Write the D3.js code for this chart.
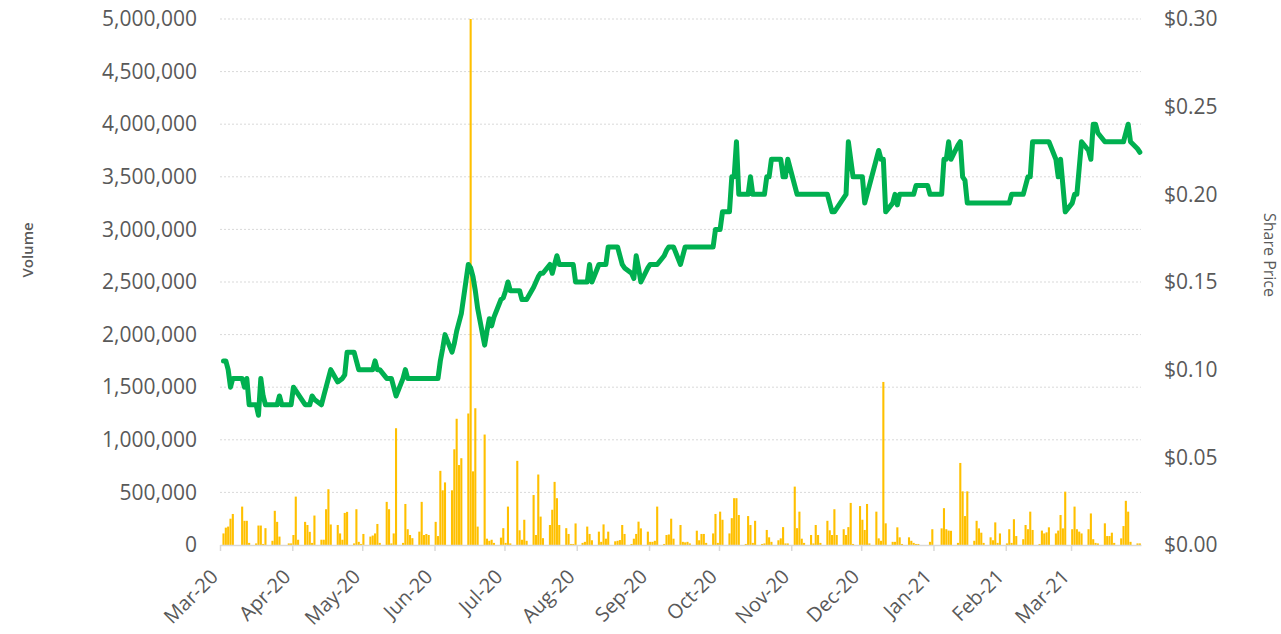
<!DOCTYPE html>
<html>
<head>
<meta charset="utf-8">
<script src="https://cdn.jsdelivr.net/npm/d3@7"></script>
<style>
  body { margin: 0; background: #fff; }
  svg text { font-family: "Open Sans", sans-serif; fill: #595959; }
</style>
</head>
<body>
<svg id="chart" width="1281" height="634"></svg>
<script>
// trading days Mar 2 2020 .. Mar 30 2021, one row per week (Mon..Fri)
const firstDay = new Date(Date.UTC(2020, 2, 2));
const lastDay = new Date(Date.UTC(2021, 2, 31)); // exclusive

// share price ($) per trading day
const sharePrice = [
  .105,.105,.10,.09,.095,
  .095,.095,.09,.095,.08,
  .08,.074,.095,.085,.08,
  .08,.08,.08,.085,.08,
  .08,.08,.09,.088,.086,
  .08,.08,.08,.085,.083,
  .08,.085,.09,.095,.10,
  .093,.094,.095,.097,.11,
  .11,.105,.10,.10,.10,
  .10,.10,.105,.10,.10,
  .095,.095,.095,.09,.085,
  .095,.10,.095,.095,.095,
  .095,.095,.095,.095,.095,
  .095,.095,.105,.112,.12,
  .11,.115,.122,.127,.132,
  .16,.158,.153,.145,.135,
  .114,.122,.129,.125,.13,
  .14,.141,.145,.15,.145,
  .145,.145,.14,.14,.14,
  .147,.15,.153,.155,.155,
  .16,.155,.16,.165,.16,
  .16,.16,.16,.16,.15,
  .15,.15,.15,.16,.15,
  .16,.16,.16,.16,.17,
  .17,.17,.165,.16,.158,
  .155,.152,.165,.158,.15,
  .158,.16,.16,.16,.16,
  .165,.168,.17,.17,.17,
  .16,.165,.17,.17,.17,
  .17,.17,.17,.17,.17,
  .17,.18,.18,.18,.19,
  .19,.21,.21,.23,.20,
  .20,.20,.21,.20,.20,
  .20,.20,.21,.21,.22,
  .22,.22,.21,.21,.22,
  .205,.20,.20,.20,.20,
  .20,.20,.20,.20,.20,
  .20,.195,.19,.19,.192,
  .198,.20,.23,.22,.21,
  .21,.21,.195,.20,.205,
  .22,.225,.22,.22,.19,
  .195,.20,.194,.20,.20,
  .20,.20,.20,.205,.205,
  .205,.205,.20,.20,.20,
  .20,.22,.22,.23,.22,
  .228,.23,.21,.208,.195,
  .195,.195,.195,.195,.195,
  .195,.195,.195,.195,.195,
  .195,.195,.20,.20,.20,
  .20,.205,.21,.21,.23,
  .23,.23,.23,.23,.23,
  .22,.21,.22,.205,.19,
  .195,.20,.20,.215,.23,
  .225,.22,.24,.24,.235,
  .23,.23,.23,.23,.23,
  .23,.23,.235,.24,.23,
  .226,.224
];

// volume per trading day, thousands of shares
const volumeK = [
  110,165,175,250,295,
  0,365,230,230,20,
  15,185,185,10,160,
  40,325,220,80,0,
  15,15,95,460,50,
  220,190,125,20,280,
  50,50,340,530,195,
  190,110,50,305,315,
  15,340,30,10,105,
  80,90,110,200,20,
  410,340,15,110,1110,
  20,390,150,95,65,
  127,410,95,105,95,
  220,85,705,520,595,
  520,910,1200,760,825,
  1250,5000,700,1300,175,
  1050,60,40,50,20,
  70,160,20,365,15,
  800,140,50,240,40,
  475,95,670,270,65,
  190,335,600,445,190,
  160,105,10,10,205,
  20,30,175,105,45,
  127,30,196,60,127,
  35,40,47,190,105,
  10,60,105,222,158,
  127,30,30,40,365,
  10,95,100,250,60,
  190,30,25,30,15,
  136,45,105,105,20,
  110,295,20,317,240,
  110,255,445,445,285,
  10,275,190,20,230,
  10,15,143,73,30,
  45,63,170,15,15,
  555,160,317,60,20,
  95,15,190,95,20,
  230,140,95,340,95,
  150,95,170,400,10,
  370,240,143,390,15,
  317,63,40,1550,206,
  30,30,168,73,10,
  73,40,20,10,10,
  0,0,30,150,0,
  158,350,150,137,135,
  20,780,510,275,510,
  40,230,158,117,20,
  73,45,215,20,110,
  15,150,20,245,85,
  55,190,150,317,143,
  10,137,110,120,168,
  110,137,285,158,507,
  150,365,150,127,110,
  150,300,55,20,15,
  206,85,85,117,20,
  63,180,420,317,30,
  15,15
];

const volumeTicks = d3.range(0, 5000001, 500000);
const priceTicks = [0, 0.05, 0.10, 0.15, 0.20, 0.25, 0.30];

const tradingDays = d3.utcDays(firstDay, lastDay).filter(d => d.getUTCDay() % 6 !== 0);
const data = tradingDays.map((date, i) => ({
  date: date,
  price: sharePrice[i],
  volume: volumeK[i] * 1000
}));

const svg = d3.select("#chart");
const plotLeft = 220, plotRight = 1141, plotTop = 19, plotBottom = 545;

const x = d3.scaleUtc()
  .domain([new Date(Date.UTC(2020, 2, 1)), new Date(Date.UTC(2021, 2, 31))])
  .range([plotLeft, plotRight]);
const dayW = x(new Date(Date.UTC(2020, 2, 2))) - x(new Date(Date.UTC(2020, 2, 1)));
const mid = d => x(d) + dayW / 2;

const yVol = d3.scaleLinear().domain([0, 5000000]).range([plotBottom, plotTop]);
const yPrice = d3.scaleLinear().domain([0, 0.30]).range([plotBottom, plotTop]);

// gridlines
svg.append("g")
  .selectAll("line")
  .data(volumeTicks.slice(1))
  .join("line")
  .attr("x1", plotLeft).attr("x2", plotRight)
  .attr("y1", d => yVol(d)).attr("y2", d => yVol(d))
  .attr("stroke", "#d9d9d9")
  .attr("stroke-width", 1)
  .attr("stroke-dasharray", "2,2");

// volume bars
svg.append("g")
  .selectAll("rect")
  .data(data)
  .join("rect")
  .attr("x", d => mid(d.date) - dayW * 0.45)
  .attr("width", dayW * 0.9)
  .attr("y", d => yVol(d.volume))
  .attr("height", d => plotBottom - yVol(d.volume))
  .attr("fill", "#ffc000");

// x axis
const months = d3.utcMonths(new Date(Date.UTC(2020, 2, 1)), new Date(Date.UTC(2021, 2, 2)));
const xAxis = svg.append("g")
  .attr("transform", `translate(0,${plotBottom})`)
  .call(d3.axisBottom(x).tickValues(months).tickSize(6).tickSizeOuter(0)
    .tickFormat(d3.utcFormat("%b-%y")));
xAxis.select(".domain").attr("stroke", "#d9d9d9").attr("stroke-width", 1.5);
xAxis.selectAll(".tick line").attr("stroke", "#d9d9d9").attr("stroke-width", 1.5);
xAxis.selectAll(".tick text")
  .attr("x", 0).attr("y", 0).attr("dy", "0.35em")
  .attr("text-anchor", "end")
  .attr("transform", "translate(-6,28) rotate(-45)")
  .style("font-size", "20px");

// price line
svg.append("path")
  .datum(data)
  .attr("fill", "none")
  .attr("stroke", "#00b050")
  .attr("stroke-width", 5)
  .attr("stroke-linejoin", "round")
  .attr("stroke-linecap", "round")
  .attr("d", d3.line().x(d => mid(d.date)).y(d => yPrice(d.price)));

// left axis (volume)
const yLeft = svg.append("g")
  .attr("transform", `translate(${plotLeft},0)`)
  .call(d3.axisLeft(yVol).tickValues(volumeTicks).tickSize(0).tickPadding(23)
    .tickFormat(d3.format(",")));
yLeft.select(".domain").remove();
yLeft.selectAll("text").style("font-size", "21px");

// right axis (price)
const yRight = svg.append("g")
  .attr("transform", `translate(${plotRight},0)`)
  .call(d3.axisRight(yPrice).tickValues(priceTicks).tickSize(0).tickPadding(23)
    .tickFormat(d => "$" + d3.format(".2f")(d)));
yRight.select(".domain").remove();
yRight.selectAll("text").style("font-size", "21px");

// axis titles
svg.append("text")
  .attr("transform", "translate(33,250) rotate(-90)")
  .attr("text-anchor", "middle")
  .style("font-size", "15px")
  .style("font-weight", "600")
  .text("Volume");

svg.append("text")
  .attr("transform", "translate(1264,255) rotate(90)")
  .attr("text-anchor", "middle")
  .style("font-size", "16px")
  .text("Share Price");
</script>
</body>
</html>
